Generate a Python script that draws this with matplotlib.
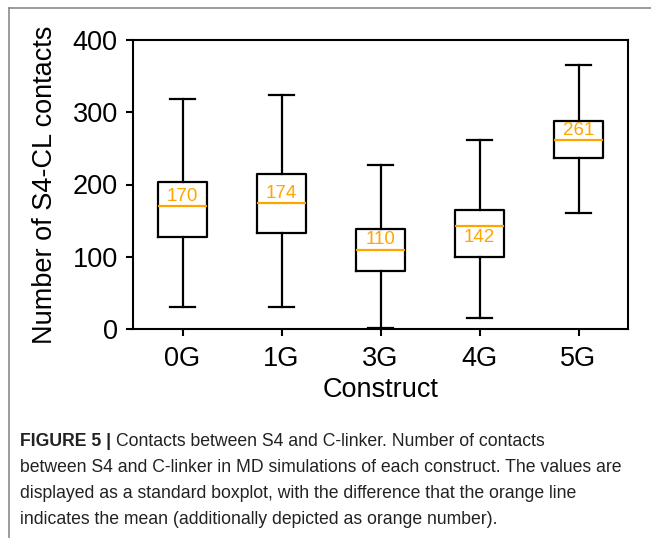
import matplotlib.pyplot as plt
from matplotlib.lines import Line2D

# Box statistics (orange line = mean)
constructs = ['0G', '1G', '3G', '4G', '5G']
whisker_low = [30, 30, 2, 15, 160]
q1 = [127, 133, 80, 99, 236]
means = [170, 174, 110, 142, 261]
q3 = [204, 214, 138, 165, 288]
whisker_high = [318, 324, 227, 262, 366]
label_above = [True, True, True, False, True]

caption_lines = [
    'Contacts between S4 and C-linker. Number of contacts',
    'between S4 and C-linker in MD simulations of each construct. The values are',
    'displayed as a standard boxplot, with the difference that the orange line',
    'indicates the mean (additionally depicted as orange number).',
]

plt.rcParams['font.family'] = ['Liberation Sans', 'DejaVu Sans']
orange = '#FFA500'
fs = 19.5

fig = plt.figure(figsize=(6.51, 5.38), dpi=100)
ax = fig.add_axes([133 / 651, 1 - 329 / 538, 495 / 651, 289 / 538])

stats = []
for i, name in enumerate(constructs):
    stats.append({'label': name, 'whislo': whisker_low[i], 'q1': q1[i],
                  'med': means[i], 'q3': q3[i], 'whishi': whisker_high[i],
                  'fliers': []})

lw = 1.6
ax.bxp(stats, widths=0.5, showfliers=False,
       boxprops=dict(color='black', linewidth=lw),
       whiskerprops=dict(color='black', linewidth=lw),
       capprops=dict(color='black', linewidth=lw),
       medianprops=dict(color=orange, linewidth=lw))

for i, m in enumerate(means):
    off = 14 if label_above[i] else -15
    ax.text(i + 1, m + off, str(m), color=orange, fontsize=13.5,
            ha='center', va='center')

ax.set_xlim(0.5, 5.5)
ax.set_ylim(0, 400)
ax.set_yticks([0, 100, 200, 300, 400])
ax.set_xlabel('Construct', fontsize=fs)
ax.set_ylabel('Number of S4-CL contacts', fontsize=fs)
ax.xaxis.set_label_coords(0.5, -0.165)
ax.yaxis.set_label_coords(-0.152, 0.5)
ax.tick_params(labelsize=fs, width=1.5, length=5)
ax.tick_params(axis='x', pad=7)
ax.tick_params(axis='y', pad=6)
for s in ax.spines.values():
    s.set_linewidth(1.5)

# outer frame of the figure panel
fig.add_artist(Line2D([9 / 651, 1], [1 - 8 / 538, 1 - 8 / 538],
                      color='#8a8a8a', linewidth=1.2))
fig.add_artist(Line2D([9 / 651, 9 / 651], [0, 1 - 8 / 538],
                      color='#8a8a8a', linewidth=1.2))

# caption
cfs = 12.7
cap_y = [441, 467, 494, 520]
head = fig.text(20 / 651, 1 - cap_y[0] / 538, 'FIGURE 5 |', fontsize=cfs,
                fontweight='bold', va='center', color='#222222')
fig.canvas.draw()
bb = head.get_window_extent()
fig.text((bb.x1 + 5) / 651, 1 - cap_y[0] / 538, caption_lines[0], fontsize=cfs,
         va='center', color='#222222')
for line, y in zip(caption_lines[1:], cap_y[1:]):
    fig.text(20 / 651, 1 - y / 538, line, fontsize=cfs, va='center',
             color='#222222')

fig.savefig('out.png', dpi=100)
